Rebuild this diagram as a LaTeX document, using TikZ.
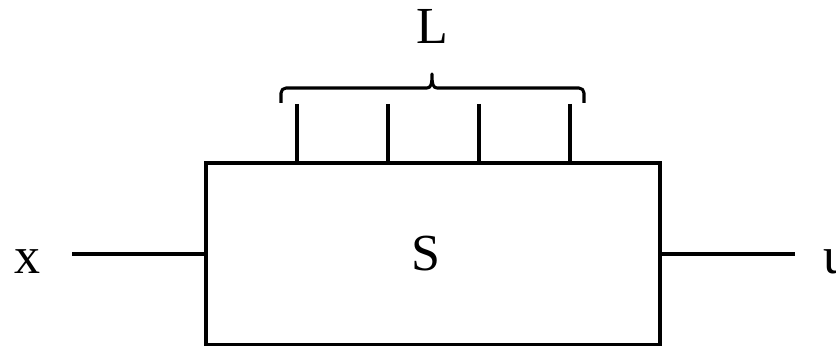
\documentclass[tikz,border=0pt]{standalone}
\usepackage{fontspec}
\setmainfont{Liberation Serif}
\begin{document}
\begin{tikzpicture}[x=0.75pt,y=-0.75pt,
  wire/.style={line width=2.3pt},
  lbl/.style={font=\fontsize{39}{46}\selectfont, inner sep=0pt, anchor=base},
  block/.style={draw, line width=2.3pt, minimum width=454*0.75pt, minimum height=182*0.75pt, inner sep=0pt}]
  \useasboundingbox (0,0) rectangle (836,346);
  % system block
  \node[block] (box) at (433,254) {};
  \node[lbl] (S) at (426,270) {S};
  % input and output wires
  \node[lbl] (x) at (27,273) {x};
  \node[lbl] (u) at (836,273) {u};
  \coordinate (xin) at (72,254);
  \coordinate (uout) at (795,254);
  \draw[wire] (xin) -- (box.west);
  \draw[wire] (box.east) -- (uout);
  % parameter inputs on top of the block
  \foreach \i/\px in {1/297,2/388,3/479,4/570}{
    \coordinate (t\i) at (\px,104);
    \draw[wire] (t\i) -- (t\i |- box.north);
  }
  % brace grouping the parameter inputs (y axis points down here)
  \draw[line width=2.3pt, line join=round]
    (281,103) -- (281,93) arc[start angle=180, end angle=270, radius=5]
    -- (427,88) .. controls (431,88) and (432,84) .. (432,74)
    .. controls (432,84) and (433,88) .. (437,88)
    -- (579,88) arc[start angle=270, end angle=360, radius=5] -- (584,103);
  \node[lbl] (L) at (432,44) {L};
\end{tikzpicture}
\end{document}
